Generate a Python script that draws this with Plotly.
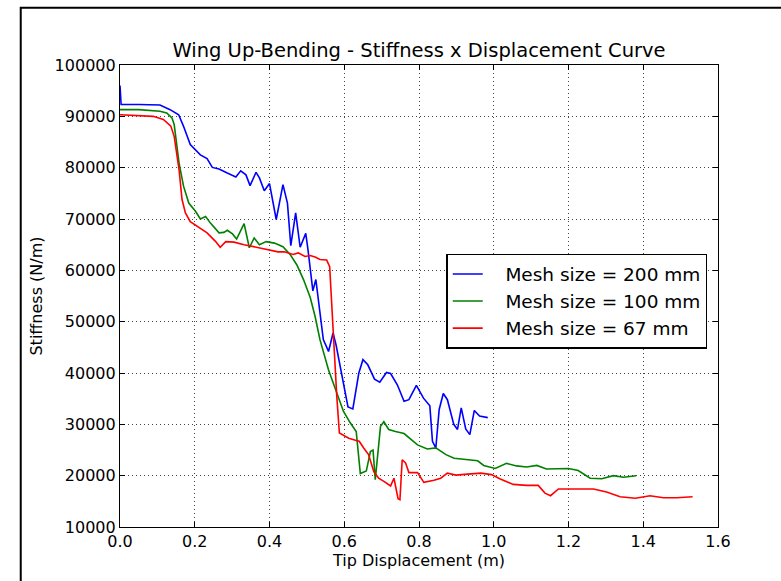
import plotly.graph_objects as go

# Tip displacement (m) and stiffness (N/m) for each mesh size
x_200 = [0.0, 0.003, 0.05, 0.107, 0.134, 0.157, 0.170, 0.188, 0.215, 0.233, 0.247, 0.265,
         0.287, 0.310, 0.323, 0.337, 0.348, 0.364, 0.373, 0.386, 0.400, 0.418, 0.436, 0.448,
         0.457, 0.470, 0.482, 0.497, 0.503, 0.516, 0.524, 0.544, 0.558, 0.570, 0.578, 0.589,
         0.610, 0.623, 0.639, 0.650, 0.663, 0.681, 0.695, 0.713, 0.724, 0.742, 0.760, 0.773,
         0.793, 0.812, 0.829, 0.836, 0.845, 0.854, 0.865, 0.876, 0.893, 0.903, 0.913, 0.925,
         0.936, 0.948, 0.962, 0.984]
k_200 = [96000, 92300, 92300, 92200, 91300, 90300, 88050, 84500, 82500, 81750, 80050, 79750,
         78950, 78200, 79400, 78600, 76500, 79100, 78000, 75500, 76900, 69900, 76700, 73100,
         64800, 71200, 64500, 67200, 64000, 56000, 58200, 46500, 44200, 47800, 45500, 41300,
         33400, 33000, 40000, 42600, 41600, 38800, 38200, 40100, 39900, 37700, 34500, 34800,
         37600, 35100, 33600, 26700, 25400, 32900, 36000, 34800, 30000, 29000, 33200, 29100,
         28000, 32700, 31600, 31300]

x_100 = [0.0, 0.05, 0.107, 0.125, 0.139, 0.145, 0.150, 0.158, 0.170, 0.184, 0.202, 0.215,
         0.229, 0.242, 0.265, 0.278, 0.287, 0.301, 0.312, 0.332, 0.346, 0.359, 0.373, 0.391,
         0.413, 0.436, 0.455, 0.473, 0.491, 0.509, 0.522, 0.535, 0.558, 0.576, 0.598, 0.616,
         0.632, 0.643, 0.659, 0.670, 0.677, 0.683, 0.697, 0.706, 0.719, 0.737, 0.760, 0.796,
         0.822, 0.845, 0.872, 0.894, 0.930, 0.957, 0.973, 1.004, 1.034, 1.061, 1.088, 1.115,
         1.141, 1.200, 1.226, 1.258, 1.289, 1.320, 1.347, 1.381]
k_100 = [91300, 91300, 91000, 90650, 89700, 88400, 85500, 80900, 76400, 73100, 71500, 70000,
         70500, 69200, 67300, 67400, 67800, 67100, 66100, 69100, 64400, 66300, 65000, 65600,
         65300, 64600, 63100, 61100, 58200, 54700, 51000, 46500, 40600, 36800, 32500, 30300,
         28600, 20400, 20900, 24700, 25000, 19200, 29600, 30500, 29000, 28600, 28200, 26000,
         25200, 25400, 24100, 23400, 23100, 22900, 22000, 21400, 22400, 21900, 21700, 22000,
         21300, 21400, 21000, 19500, 19400, 20000, 19700, 20000]

x_67 = [0.0, 0.05, 0.089, 0.116, 0.136, 0.145, 0.152, 0.158, 0.166, 0.175, 0.188, 0.206,
        0.233, 0.256, 0.268, 0.283, 0.305, 0.332, 0.368, 0.395, 0.423, 0.440, 0.463, 0.477,
        0.495, 0.509, 0.522, 0.535, 0.553, 0.561, 0.564, 0.567, 0.571, 0.574, 0.580, 0.587,
        0.598, 0.612, 0.630, 0.640, 0.652, 0.665, 0.679, 0.692, 0.706, 0.724, 0.733, 0.740,
        0.744, 0.749, 0.755, 0.764, 0.773, 0.796, 0.813, 0.840, 0.858, 0.876, 0.899, 0.930,
        0.966, 0.994, 1.016, 1.052, 1.088, 1.119, 1.137, 1.152, 1.173, 1.200, 1.267, 1.302,
        1.338, 1.379, 1.418, 1.454, 1.490, 1.532]
k_67 = [90300, 90200, 90000, 89400, 88100, 86100, 82200, 79600, 73800, 71200, 69500, 68600,
        67300, 65600, 64500, 65600, 65500, 65000, 64400, 64000, 63600, 63600, 63100, 63400,
        62700, 62900, 62600, 62100, 62000, 60700, 56300, 51700, 46600, 43900, 35500, 28300,
        27800, 27300, 26900, 26700, 25400, 24100, 20800, 19500, 18900, 18000, 19500, 17300,
        15500, 15300, 23100, 22500, 20600, 20600, 18700, 19100, 19500, 20500, 20100, 20300,
        20500, 20200, 19400, 18300, 18100, 18100, 16600, 16100, 17400, 17400, 17400, 16800,
        15900, 15600, 16100, 15700, 15700, 15900]

series_names = ["Mesh size = 200 mm", "Mesh size = 100 mm", "Mesh size = 67 mm"]
series_colors = ["#0000ff", "#008000", "#ff0000"]

x_ticks = [0.0, 0.2, 0.4, 0.6, 0.8, 1.0, 1.2, 1.4, 1.6]
y_ticks = [10000, 20000, 30000, 40000, 50000, 60000, 70000, 80000, 90000, 100000]

FONT = "DejaVu Sans"
GAP = "\u00a0\u00a0\u00a0"  # space between legend line sample and label

fig = go.Figure()
for xs, ys, name, color in zip([x_200, x_100, x_67], [k_200, k_100, k_67],
                               series_names, series_colors):
    fig.add_trace(go.Scatter(x=xs, y=ys, mode="lines", name=GAP + name,
                             line=dict(color=color, width=1.6)))

axis_common = dict(
    showline=True, linecolor="black", linewidth=1.2, mirror="ticks",
    ticks="inside", ticklen=5, tickcolor="black", tickwidth=1,
    showgrid=True, gridcolor="#444444", griddash="1px,3px", gridwidth=1,
    zeroline=False, tickfont=dict(family=FONT, size=16, color="black"),
)

fig.update_xaxes(range=[0, 1.6], tickvals=x_ticks, tickformat=".1f",
                 title=dict(text="Tip Displacement (m)", standoff=2,
                            font=dict(family=FONT, size=16, color="black")),
                 **axis_common)
fig.update_yaxes(range=[10000, 100000], tickvals=y_ticks, tickformat="d",
                 title=dict(text="Stiffness (N/m)", standoff=8,
                            font=dict(family=FONT, size=16, color="black")),
                 **axis_common)

# Black frame around the whole figure (left and top edges visible)
fig.add_shape(type="rect", xref="paper", yref="paper",
              x0=-0.166, x1=1.2, y0=-0.2, y1=1.124,
              line=dict(color="black", width=2), fillcolor="rgba(0,0,0,0)")

fig.update_layout(
    width=781, height=581,
    margin=dict(l=120, r=63, t=65, b=54),
    paper_bgcolor="white", plot_bgcolor="white",
    font=dict(family=FONT, color="black"),
    title=dict(text="Wing Up-Bending - Stiffness x Displacement Curve",
               x=0.5, xref="paper", xanchor="center",
               y=1.0, yref="paper", yanchor="bottom", pad=dict(b=8),
               font=dict(family=FONT, size=19.5, color="black")),
    legend=dict(x=0.982, y=0.591, xanchor="right", yanchor="top",
                bgcolor="white", bordercolor="black", borderwidth=1.5,
                font=dict(family=FONT, size=18.5, color="black")),
    showlegend=True,
)

fig.write_html("out.html")
